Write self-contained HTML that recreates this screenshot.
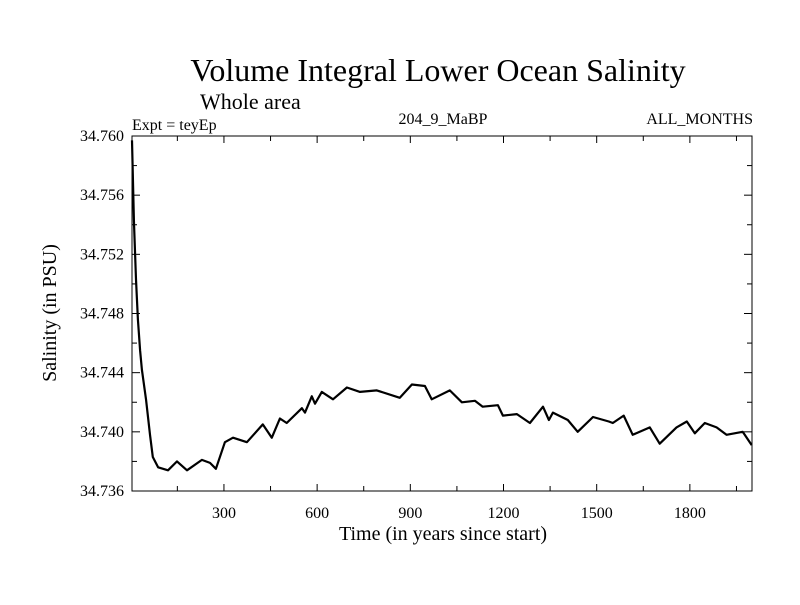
<!DOCTYPE html>
<html><head><meta charset="utf-8"><style>
body{margin:0;background:#fff}
svg text{font-family:"Liberation Serif",serif;fill:#000}
</style></head><body>
<svg id="chart" width="800" height="600" xmlns="http://www.w3.org/2000/svg">
<rect width="800" height="600" fill="#fff"/>
<text x="438" y="81" font-size="32" text-anchor="middle">Volume Integral Lower Ocean Salinity</text>
<text x="200" y="109" font-size="22">Whole area</text>
<text x="132" y="130" font-size="16">Expt = teyEp</text>
<text x="443" y="124" font-size="16" text-anchor="middle">204_9_MaBP</text>
<text x="753" y="124" font-size="16" text-anchor="end">ALL_MONTHS</text>
<text x="443" y="540" font-size="20" text-anchor="middle">Time (in years since start)</text>
<text transform="translate(56,313) rotate(-90)" font-size="20" text-anchor="middle">Salinity (in PSU)</text>
<g id="axes"></g>
<path id="series" fill="none" stroke="#000" stroke-width="2.2" stroke-linejoin="round"/>
<rect x="132" y="136" width="620" height="355" fill="none" stroke="#000" stroke-width="1"/>
</svg>
<script>
const years=[4,10,17,23,30,36,49,62,71,88,120,149,181,229,255,274,303,329,374,425,454,480,502,551,561,583,593,615,651,696,738,792,866,905,947,969,1027,1066,1108,1133,1182,1198,1243,1285,1327,1346,1359,1407,1439,1488,1539,1552,1587,1616,1671,1703,1757,1790,1816,1848,1886,1918,1970,1999];
const salinity=[34.7597,34.7543,34.7503,34.7476,34.7455,34.7442,34.7422,34.7398,34.7383,34.7376,34.7374,34.7380,34.7374,34.7381,34.7379,34.7375,34.7393,34.7396,34.7393,34.7405,34.7396,34.7409,34.7406,34.7416,34.7413,34.7424,34.7419,34.7427,34.7422,34.7430,34.7427,34.7428,34.7423,34.7432,34.7431,34.7422,34.7428,34.7420,34.7421,34.7417,34.7418,34.7411,34.7412,34.7406,34.7417,34.7408,34.7413,34.7408,34.7400,34.7410,34.7407,34.7406,34.7411,34.7398,34.7403,34.7392,34.7403,34.7407,34.7399,34.7406,34.7403,34.7398,34.7400,34.7391];
const xTicks=[300,600,900,1200,1500,1800];
const xTickLabels=["300","600","900","1200","1500","1800"];
const yTicks=[34.736,34.740,34.744,34.748,34.752,34.756,34.760];
const yTickLabels=["34.736","34.740","34.744","34.748","34.752","34.756","34.760"];
const X0=132,X1=752,Y0=491,Y1=136,XMIN=4,XMAX=2000,YMIN=34.736,YMAX=34.760;
const sx=v=>X0+(v-XMIN)/(XMAX-XMIN)*(X1-X0);
const sy=v=>Y0-(v-YMIN)/(YMAX-YMIN)*(Y0-Y1);
const NS="http://www.w3.org/2000/svg";
const g=document.getElementById('axes');
function line(x1,y1,x2,y2){const l=document.createElementNS(NS,'line');l.setAttribute('x1',x1);l.setAttribute('y1',y1);l.setAttribute('x2',x2);l.setAttribute('y2',y2);l.setAttribute('stroke','#000');l.setAttribute('stroke-width','1');


g.appendChild(l);}
function txt(x,y,s,anchor){const t=document.createElementNS(NS,'text');t.setAttribute('x',x);t.setAttribute('y',y);t.setAttribute('font-size','16');t.setAttribute('text-anchor',anchor);t.textContent=s;


g.appendChild(t);}
for(let v=150;v<XMAX;v+=150){const x=sx(v);const major=v%300===0;const L=major?7:5;line(x,Y0,x,Y0-L);line(x,Y1,x,Y1+L);}
xTicks.forEach((v,i)=>txt(sx(v),518,xTickLabels[i],'middle'));
for(let k=0;k<=12;k++){const v=YMIN+k*0.002;const y=sy(v);const L=k%2===0?8:5;line(X0,y,X0+L,y);line(X1,y,X1-L,y);}
yTicks.forEach((v,i)=>txt(124,sy(v)+5,yTickLabels[i],'end'));
document.getElementById('series').setAttribute('d',years.map((t,i)=>(i?'L':'M')+sx(t).toFixed(1)+','+sy(salinity[i]).toFixed(1)).join(''));
</script>
</body></html>
